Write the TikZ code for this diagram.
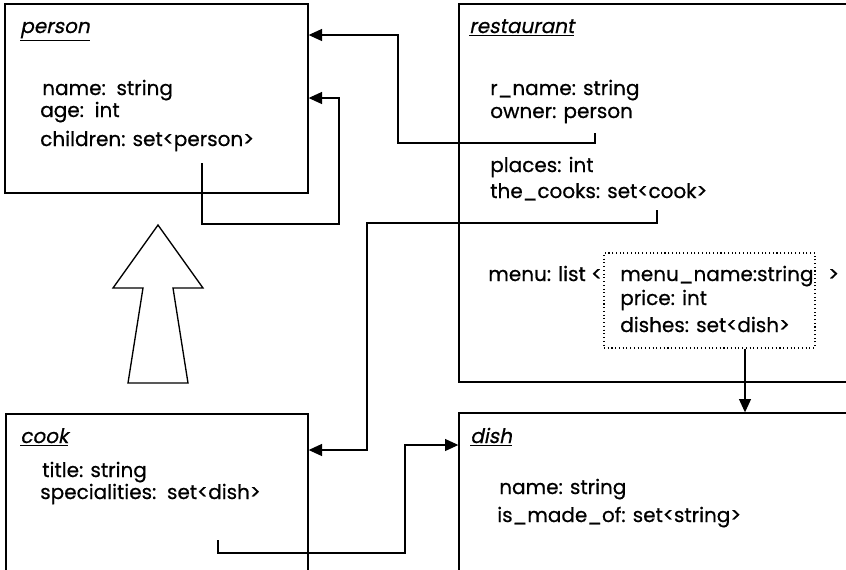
\documentclass[tikz,border=0pt]{standalone}
\usepackage{fontspec}
\setmainfont{Poppins}[FakeBold=0.6]
\newfontfamily\slantfont{Poppins}[FakeSlant=0.2, FakeBold=0.6]
\usetikzlibrary{arrows.meta, fit}

\tikzset{
  classbox/.style={draw, line width=1pt, inner sep=0pt},
  menubox/.style={draw, dotted, line width=0.8pt, inner sep=0pt},
  title/.style={anchor=base west, inner sep=0pt, font=\fontsize{15}{18}\slantfont},
  attr/.style={anchor=base west, inner sep=0pt, font=\fontsize{15}{18}\selectfont},
  link/.style={line width=0.9pt, -{Triangle[length=10pt,width=9pt]}}
}

\begin{document}
\begin{tikzpicture}[x=0.75pt, y=-0.75pt]
\useasboundingbox (0,0) rectangle (846,569);
\clip (0,0) rectangle (846,569);

% Draw class boxes
\node[classbox, fit={(5,4) (308,193)}] (person) {};
\node[classbox, fit={(459,4) (870,382)}] (restaurant) {};
\node[classbox, fit={(6,414) (308,590)}] (cook) {};
\node[classbox, fit={(459,413) (870,590)}] (dish) {};
\node[menubox, fit={(604,253) (815,348)}] (menu) {};

% person
\node[title] (persontitle) at (20,33) {\underline{person}};
\node[attr] (pname) at (42,95) {name:\ \ string};
\node[attr] (page) at (40,117) {age:\ \ int};
\node[attr] (pchildren) at (40,146) {children: set<person>};

% restaurant
\node[title] (resttitle) at (469,33) {\underline{restaurant}};
\node[attr] (rname) at (490,95) {r\_name: string};
\node[attr] (rowner) at (490,118) {owner: person};
\node[attr] (rplaces) at (490,172) {places: int};
\node[attr] (rcooks) at (490,198) {the\_cooks: set<cook>};
\node[attr] (rmenu) at (488,281) {menu: list <};
\node[attr] (mname) at (620,281) {menu\_name:string};
\node[attr] (mprice) at (620,305) {price: int};
\node[attr] (mdishes) at (620,332) {dishes: set<dish>};
\node[attr] (mclose) at (828,281) {>};

% cook
\node[title] (cooktitle) at (20,443) {\underline{cook}};
\node[attr] (ctitle) at (42,477) {title: string};
\node[attr] (cspec) at (40,499) {specialities:\ \ set<dish>};

% dish
\node[title] (dishtitle) at (470,443) {\underline{dish}};
\node[attr] (dname) at (499,494) {name: string};
\node[attr] (dmade) at (497,522) {is\_made\_of: set<string>};

% Inheritance arrow
\draw[line width=1pt] (158,225) -- (203,288) -- (173,288) -- (188,383)
  -- (128,383) -- (143,288) -- (113,288) -- cycle;

% Reference connectors
\coordinate (ownsrc) at (595,133);
\coordinate (ownbend) at (398,143);
\coordinate (ownend) at (0,35);
\draw[link] (ownsrc) |- (ownbend) |- (person.east |- ownend);

\coordinate (kidsrc) at (202,163);
\coordinate (kidbend) at (339,224);
\coordinate (kidend) at (0,98);
\draw[link] (kidsrc) |- (kidbend) |- (person.east |- kidend);

\coordinate (cooksrc) at (657,210);
\coordinate (cookbend) at (367,223);
\coordinate (cookend) at (0,450);
\draw[link] (cooksrc) |- (cookbend) |- (cook.east |- cookend);

\coordinate (specsrc) at (218,540);
\coordinate (specbend) at (405,553);
\coordinate (specend) at (0,445);
\draw[link] (specsrc) |- (specbend) |- (dish.west |- specend);

\coordinate (dishx) at (745,0);
\draw[link] (menu.south -| dishx) -- (dish.north -| dishx);
\end{tikzpicture}
\end{document}
